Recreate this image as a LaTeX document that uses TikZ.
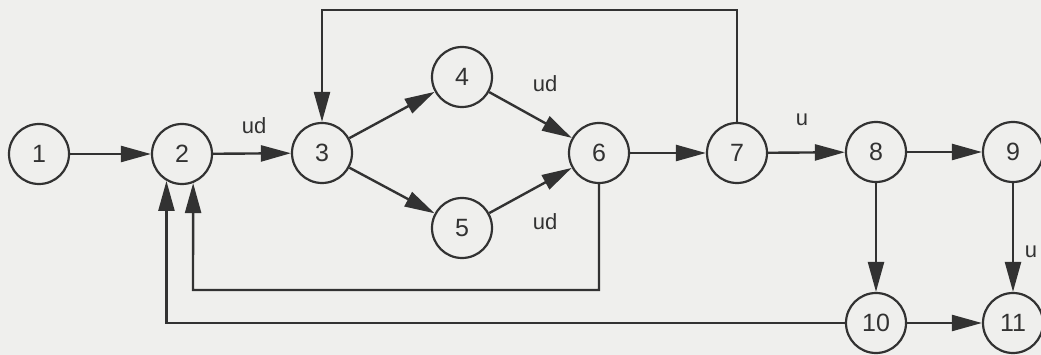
\documentclass[tikz,border=0pt]{standalone}
\usepackage{fontspec}
\setmainfont{Liberation Sans}
\usetikzlibrary{arrows.meta}
\definecolor{bg}{RGB}{239,239,237}
\definecolor{ink}{RGB}{50,50,50}
\begin{document}
\begin{tikzpicture}[x=1pt,y=-1pt,
  st/.style={circle,draw=ink,line width=2.2pt,minimum size=60pt,inner sep=0pt,font=\fontsize{25}{27}\selectfont,text=ink},
  arr/.style={draw=ink,line width=2.4pt,-{Triangle[length=30pt,width=16pt]}},
  lab/.style={font=\fontsize{22}{24}\selectfont,text=ink}]
\fill[bg] (0,0) rectangle (1041,355);
\useasboundingbox (0,0) rectangle (1041,355);
\clip (0,0) rectangle (1041,355);
\node[st] (n1) at (39,154) {1};
\node[st] (n2) at (182,154) {2};
\node[st] (n3) at (322,153) {3};
\node[st] (n4) at (462,77) {4};
\node[st] (n5) at (462,228) {5};
\node[st] (n6) at (599,153) {6};
\node[st] (n7) at (737,153) {7};
\node[st] (n8) at (876,152) {8};
\node[st] (n9) at (1013,152) {9};
\node[st] (n10) at (876,323) {10};
\node[st] (n11) at (1013,323) {11};
\coordinate (top) at (322,10);
\coordinate (bot) at (193,290);
\draw[arr] (n1) -- (n2);
\draw[arr] (n2) -- (n3);
\draw[arr] (n3) -- (n4);
\draw[arr] (n3) -- (n5);
\draw[arr] (n4) -- (n6);
\draw[arr] (n5) -- (n6);
\draw[arr] (n6) -- (n7);
\draw[arr] (n7) -- (n8);
\draw[arr] (n8) -- (n9);
\draw[arr] (n8) -- (n10);
\draw[arr] (n9) -- (n11);
\draw[arr] (n10) -- (n11);
\draw[arr] (n7.north) |- (top) -- (n3.north);
\draw[arr] (n6.south) |- (bot) -- (n2.-69);
\draw[arr] (n10.west) -| (n2.-120);
\node[lab] (l1) at (254,126) {ud};
\node[lab] (l2) at (545,84) {ud};
\node[lab] (l3) at (545,222) {ud};
\node[lab] (l4) at (802,120) {u};
\node[lab] (l5) at (1031,252) {u};
\end{tikzpicture}
\end{document}
